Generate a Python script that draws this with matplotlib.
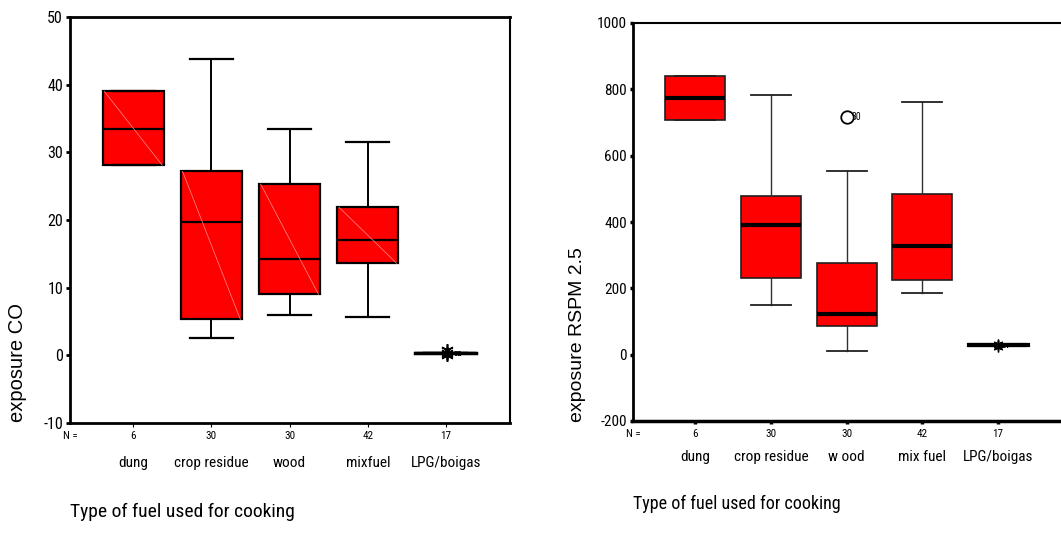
import matplotlib
matplotlib.use("Agg")
import matplotlib.pyplot as plt

categories = ["dung", "crop residue", "wood", "mix fuel", "LPG/boigas"]
cat_labels_co = ["dung", "crop residue", "wood", "mixfuel", "LPG/boigas"]
cat_labels_pm = ["dung", "crop residue", "w ood", "mix fuel", "LPG/boigas"]
n_values = ["6", "30", "30", "42", "17"]

# exposure CO (q1, median, q3, whisker low, whisker high)
co_q1 = [28.1, 5.3, 9.0, 13.6, 0.3]
co_med = [33.4, 19.7, 14.2, 17.0, 0.3]
co_q3 = [39.0, 27.2, 25.3, 21.9, 0.3]
co_wlo = [28.1, 2.5, 5.9, 5.6, 0.3]
co_whi = [39.0, 43.8, 33.4, 31.6, 0.3]
co_fliers = [[], [], [], [], [0.1, 0.4, 0.8]]
co_flier_labels = [[], [], [], [], ["52"]]

# exposure RSPM 2.5
pm_q1 = [709, 232, 86, 224, 28]
pm_med = [775, 392, 124, 328, 28]
pm_q3 = [841, 478, 277, 483, 28]
pm_wlo = [709, 149, 11, 186, 28]
pm_whi = [841, 783, 554, 763, 28]
pm_outliers = [[], [], [717], [], []]
pm_outlier_labels = [[], [], ["30"], [], []]
pm_extremes = [[], [], [], [], [22, 28, 33]]

NARROW = ["Roboto Condensed", "Liberation Sans", "DejaVu Sans"]
REG = ["Liberation Sans", "DejaVu Sans"]

W, H = 1061, 547
fig = plt.figure(figsize=(W / 100, H / 100), dpi=100)


def make_stats(q1, med, q3, lo, hi):
    out = []
    for i in range(len(q1)):
        out.append(dict(q1=q1[i], med=med[i], q3=q3[i], whislo=lo[i], whishi=hi[i], fliers=[]))
    return out


pos = list(range(1, len(categories) + 1))

# ---------------- left chart ----------------
axL = fig.add_axes([70 / W, 1 - 423 / H, 440 / W, 406 / H])
statsL = make_stats(co_q1, co_med, co_q3, co_wlo, co_whi)
axL.bxp(statsL, positions=pos, widths=0.78, patch_artist=True, showfliers=False,
        boxprops=dict(facecolor="#ff0000", edgecolor="black", linewidth=1.6),
        medianprops=dict(color="black", linewidth=1.6),
        whiskerprops=dict(color="black", linewidth=1.4),
        capprops=dict(color="black", linewidth=1.6), capwidths=0.55)
for i, p in enumerate(pos):
    if co_q3[i] > co_q1[i]:
        axL.plot([p - 0.37, p + 0.37], [co_q3[i], co_q1[i]], color="#ff9090", lw=0.5, zorder=3)
axL.plot([pos[4] - 0.39, pos[4] + 0.39], [co_med[4], co_med[4]], color="black", lw=2.5, zorder=4)
for i, fl in enumerate(co_fliers):
    for v in fl:
        axL.plot([pos[i] + 0.02], [v], marker=(6, 2, 0), color="black", ms=9, mew=1.2, zorder=5)
    for lab in co_flier_labels[i]:
        axL.text(pos[i] + 0.1, co_med[i], lab, fontsize=6, family=NARROW, va="center", ha="left",
                 fontweight="bold", zorder=6)

axL.set_xlim(0.19, 5.82)
axL.set_ylim(-10, 50)
ytL = [-10, 0, 10, 20, 30, 40, 50]
axL.set_yticks(ytL)
axL.set_yticklabels([str(v) for v in ytL], family=NARROW, fontsize=11.5)
axL.set_xticks(pos)
axL.set_xticklabels([])
axL.tick_params(axis="y", length=3, width=2, direction="out", pad=2)
axL.tick_params(axis="x", length=3, width=0.8, direction="out")
for s in ["left", "bottom", "top"]:
    axL.spines[s].set_linewidth(2.0)
axL.spines["right"].set_linewidth(1.5)

xt = axL.get_xaxis_transform()
axL.annotate("N =", xy=(0.19, 0), xycoords=xt, xytext=(0, -13), textcoords="offset pixels",
             ha="center", va="center", fontsize=8, family=NARROW)
for i, p in enumerate(pos):
    axL.annotate(n_values[i], xy=(p, 0), xycoords=xt, xytext=(0, -13), textcoords="offset pixels",
                 ha="center", va="center", fontsize=8, family=NARROW)
    axL.annotate(cat_labels_co[i], xy=(p, 0), xycoords=xt, xytext=(0, -40), textcoords="offset pixels",
                 ha="center", va="center", fontsize=11, family=NARROW)
fig.text(70 / W, 1 - 512 / H, "Type of fuel used for cooking", ha="left", va="center",
         fontsize=14, family=NARROW)
fig.text(18 / W, 1 - 362 / H, "exposure CO", rotation=90, ha="center", va="center",
         fontsize=14.5, family=REG)

# ---------------- right chart ----------------
axR = fig.add_axes([633 / W, 1 - 421 / H, (W - 633) / W, 398 / H])
statsR = make_stats(pm_q1, pm_med, pm_q3, pm_wlo, pm_whi)
axR.bxp(statsR, positions=pos, widths=0.79, patch_artist=True, showfliers=False,
        boxprops=dict(facecolor="#ff0000", edgecolor="#202020", linewidth=1.2),
        medianprops=dict(color="black", linewidth=3.0),
        whiskerprops=dict(color="#303030", linewidth=1.0),
        capprops=dict(color="#202020", linewidth=1.3), capwidths=0.53)
axR.plot([pos[4] - 0.39, pos[4] + 0.39], [pm_med[4], pm_med[4]], color="black", lw=3.0, zorder=4)
for i, ol in enumerate(pm_outliers):
    for j, v in enumerate(ol):
        axR.plot([pos[i]], [v], marker="o", mfc="white", mec="black", ms=9, mew=1.3, zorder=5)
        axR.annotate(pm_outlier_labels[i][j], xy=(pos[i], v), xytext=(5, 0), textcoords="offset pixels",
                     ha="left", va="center", fontsize=7, family=NARROW)
for i, ex in enumerate(pm_extremes):
    for v in ex:
        axR.plot([pos[i]], [v], marker=(6, 2, 0), color="black", ms=7, mew=1.0, zorder=5)
    if ex:
        axR.annotate("31", xy=(pos[i], pm_med[i]), xytext=(4, 0), textcoords="offset pixels",
                     ha="left", va="center", fontsize=6, family=NARROW, fontweight="bold")

axR.set_xlim(0.18, 5.83)
axR.set_ylim(-200, 1000)
ytR = [-200, 0, 200, 400, 600, 800, 1000]
axR.set_yticks(ytR)
axR.set_yticklabels([str(v) for v in ytR], family=NARROW, fontsize=11)
axR.set_xticks(pos)
axR.set_xticklabels([])
axR.tick_params(axis="y", length=2.5, width=2.5, direction="out", pad=2)
axR.tick_params(axis="x", length=2.5, width=2.5, direction="out")
axR.spines["left"].set_linewidth(2.0)
axR.spines["top"].set_linewidth(1.5)
axR.spines["bottom"].set_linewidth(2.5)
axR.spines["right"].set_visible(False)

xtR = axR.get_xaxis_transform()
axR.annotate("N =", xy=(0.18, 0), xycoords=xtR, xytext=(0, -13), textcoords="offset pixels",
             ha="center", va="center", fontsize=8, family=NARROW)
for i, p in enumerate(pos):
    axR.annotate(n_values[i], xy=(p, 0), xycoords=xtR, xytext=(0, -13), textcoords="offset pixels",
                 ha="center", va="center", fontsize=8, family=NARROW)
    axR.annotate(cat_labels_pm[i], xy=(p, 0), xycoords=xtR, xytext=(0, -36), textcoords="offset pixels",
                 ha="center", va="center", fontsize=11, family=NARROW)
fig.text(633 / W, 1 - 504 / H, "Type of fuel used for cooking", ha="left", va="center",
         fontsize=13, family=NARROW)
fig.text(577 / W, 1 - 335 / H, "exposure RSPM 2.5", rotation=90, ha="center", va="center",
         fontsize=14, family=REG)

fig.savefig("out.png", dpi=100, facecolor="white")
